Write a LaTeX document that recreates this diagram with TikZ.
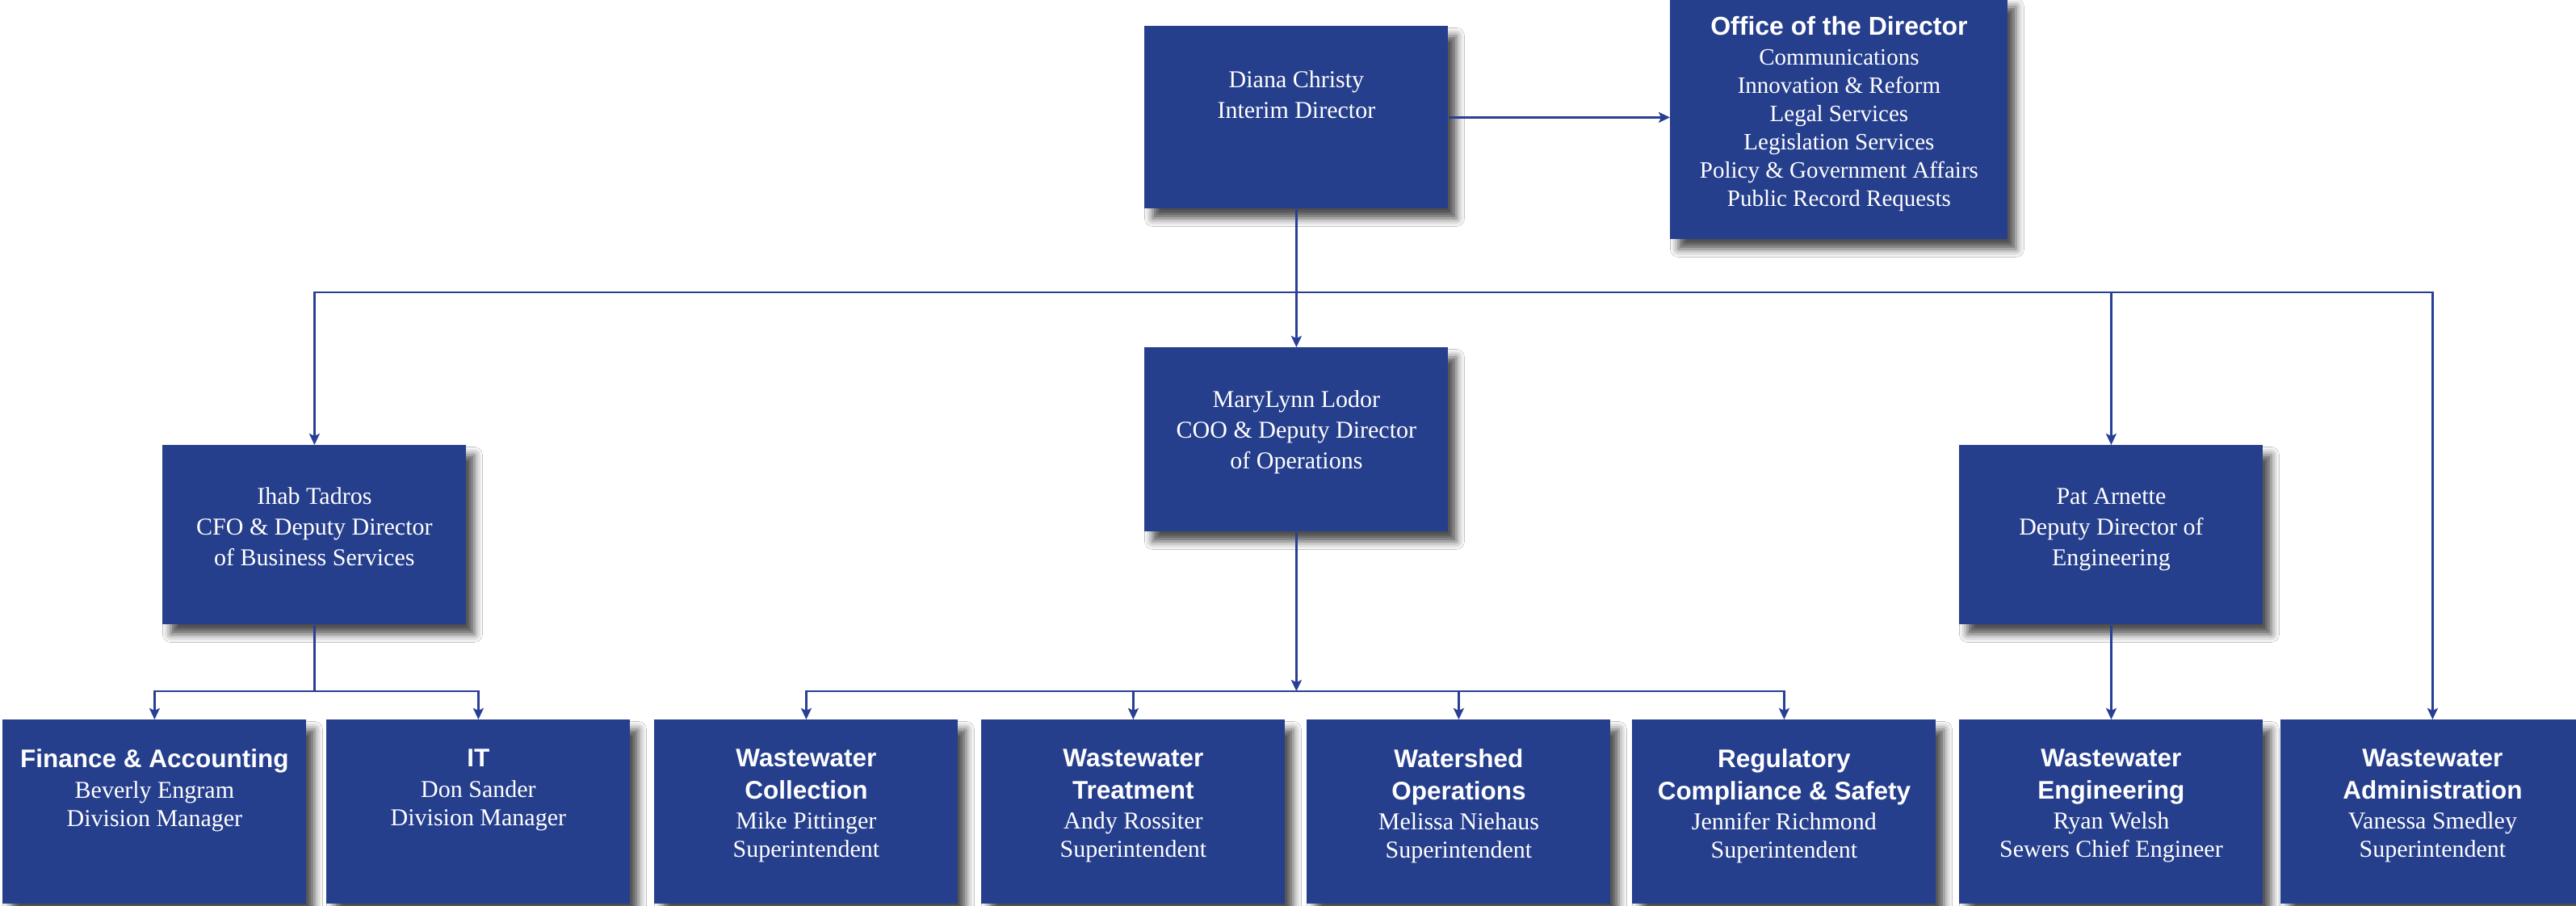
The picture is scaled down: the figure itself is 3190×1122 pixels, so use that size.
\documentclass[tikz,border=0pt]{standalone}
\usepackage{fontspec}
\setmainfont{Liberation Serif}
\newfontfamily\serf{Liberation Serif}
\newfontfamily\sansf{Liberation Sans}
\usetikzlibrary{arrows.meta,shadows.blur,calc}
\definecolor{boxblue}{HTML}{263F8D}
\definecolor{lineblue}{HTML}{283F95}
\newcommand\hd[1]{{\sansf\bfseries\fontsize{15.75}{17.5}\selectfont #1}}
\begin{document}
\begin{tikzpicture}[x=0.5pt,y=-0.5pt,
  box/.style={fill=boxblue, draw=none, inner sep=0pt, anchor=north west,
    minimum width=188pt, minimum height=114pt,
    blur shadow={shadow xshift=5pt, shadow yshift=-6pt, shadow blur radius=5pt, shadow opacity=70}},
  txt/.style={text=white, align=center, inner sep=0pt, anchor=north,
    font=\serf\fontsize{15}{19}\selectfont},
  btxt/.style={txt, font=\serf\fontsize{15}{17.5}\selectfont},
  conn/.style={draw=lineblue, line width=1.3pt},
  arr/.style={conn, -{Stealth[length=7pt,width=6.5pt,inset=1.5pt]}}]
\useasboundingbox (0,0) rectangle (3190,1122);
\fill[white] (0,0) rectangle (3190,1122);
\clip (0,0) rectangle (3190,1122);

% boxes
\node[box, minimum height=113pt] (diana) at (1417,32) {};
\node[box, minimum width=209pt, minimum height=150pt] (office) at (2068,-4) {};
\node[box, minimum height=111pt] (ihab) at (201,551) {};
\node[box] (mary) at (1417,430) {};
\node[box, minimum height=111pt] (pat) at (2426,551) {};
\node[box] (fin) at (3,891) {};
\node[box] (it) at (404,891) {};
\node[box] (wc) at (810,891) {};
\node[box] (wt) at (1215,891) {};
\node[box] (wo) at (1618,891) {};
\node[box] (rcs) at (2021,891) {};
\node[box] (we) at (2426,891) {};
\node[box] (wa) at (2824,891) {};

% texts
\node[txt] (dianaT) at ([yshift=-27.5pt]diana.north) {Diana Christy\\Interim Director};
\node[txt, font=\serf\fontsize{14.5}{17.5}\selectfont] (officeT) at ([yshift=-12pt]office.north)
  {{\sansf\bfseries\fontsize{16}{17.5}\selectfont Office of the Director}\\[1pt]
   Communications\\Innovation \& Reform\\Legal Services\\Legislation Services\\
   Policy \& Government Affairs\\Public Record Requests};
\node[txt] (ihabT) at ([yshift=-26pt]ihab.north) {Ihab Tadros\\CFO \& Deputy Director\\of Business Services};
\node[txt] (maryT) at ([yshift=-26.5pt]mary.north) {MaryLynn Lodor\\COO \& Deputy Director\\of Operations};
\node[txt] (patT) at ([yshift=-26.5pt]pat.north) {Pat Arnette\\Deputy Director of\\Engineering};

\node[btxt] (finT) at ([yshift=-18pt]fin.north) {\hd{Finance \& Accounting}\\[1.5pt]Beverly Engram\\Division Manager};
\node[btxt] (itT) at ([yshift=-18pt]it.north) {\hd{IT}\\[1.5pt]Don Sander\\Division Manager};
\node[btxt] (wcT) at ([yshift=-18pt]wc.north) {\hd{Wastewater}\\[2.5pt]\hd{Collection}\\[1pt]Mike Pittinger\\Superintendent};
\node[btxt] (wtT) at ([yshift=-18pt]wt.north) {\hd{Wastewater}\\[2.5pt]\hd{Treatment}\\[1pt]Andy Rossiter\\Superintendent};
\node[btxt] (woT) at ([yshift=-18pt]wo.north) {\hd{Watershed}\\[2.5pt]\hd{Operations}\\[1pt]Melissa Niehaus\\Superintendent};
\node[btxt] (rcsT) at ([yshift=-18pt]rcs.north) {\hd{Regulatory}\\[2.5pt]\hd{Compliance \& Safety}\\[1pt]Jennifer Richmond\\Superintendent};
\node[btxt] (weT) at ([yshift=-18pt]we.north) {\hd{Wastewater}\\[2.5pt]\hd{Engineering}\\[1pt]Ryan Welsh\\Sewers Chief Engineer};
\node[btxt] (waT) at ([yshift=-18pt]wa.north) {\hd{Wastewater}\\[2.5pt]\hd{Administration}\\[1pt]Vanessa Smedley\\Superintendent};

% connectors
\coordinate (bus) at (diana.south |- 0,362);
\coordinate (opsbus) at (mary.south |- 0,856);
\coordinate (finbus) at (ihab.south |- 0,856);

\draw[arr] (diana.east) -- (diana.east -| office.west);
\draw[arr] (diana.south) -- (mary.north);
\draw[arr] (bus) -| (ihab.north);
\draw[arr] (bus) -| (pat.north);
\draw[arr] (bus) -| (wa.north);

\draw[conn] (ihab.south) -- (finbus);
\draw[arr] (finbus) -| (fin.north);
\draw[arr] (finbus) -| (it.north);

\draw[arr] (mary.south) -- (opsbus);
\draw[arr] (opsbus) -| (wc.north);
\draw[arr] (opsbus) -| (wt.north);
\draw[arr] (opsbus) -| (wo.north);
\draw[arr] (opsbus) -| (rcs.north);

\draw[arr] (pat.south) -- (we.north);
\end{tikzpicture}
\end{document}
